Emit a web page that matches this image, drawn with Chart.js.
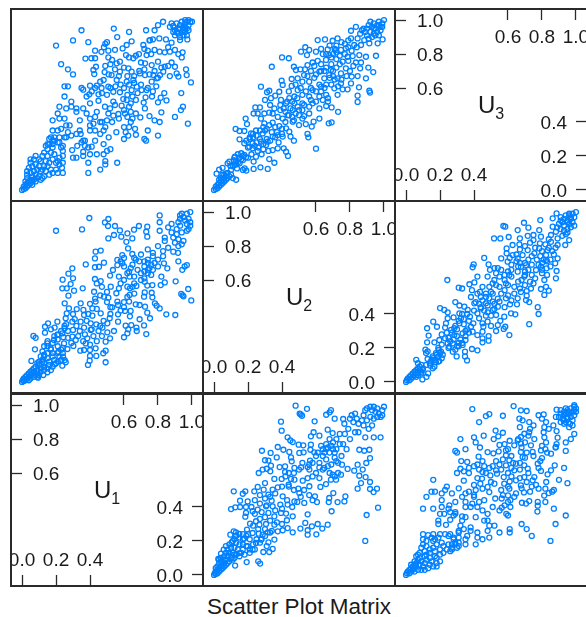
<!DOCTYPE html>
<html>
<head>
<meta charset="utf-8">
<script src="https://cdn.jsdelivr.net/npm/chart.js@4"></script>
<style>
  html, body { margin: 0; background: #fff; overflow: hidden; }
  #page { position: relative; width: 586px; height: 617px; overflow: hidden; font-family: "Liberation Sans", sans-serif; color: #1a1a1a; }
  canvas { position: absolute; }
  .frame { position: absolute; outline: 2px solid #2a2a2a; outline-offset: -1px; }
  .varname { position: absolute; font-size: 24px; transform: translate(-50%, -50%); }
  .varname sub { font-size: 16px; line-height: 0; }
  #title { position: absolute; left: 0; width: 598px; top: 594px; text-align: center; font-size: 22.5px; }
</style>
</head>
<body>
<div id="page"><div id="title">Scatter Plot Matrix</div></div>
<script>
const varNames = ['1', '2', '3'];
const lowTicks = [0, 0.2, 0.4];
const highTicks = [0.6, 0.8, 1.0];

// [U1, U3]
const pairsU1U3 = [
  [0,0],[.01,.005],[.02,.01],[.01,.02],[.03,.02],[.02,.03],[.04,.03],[.03,.04],[.05,.04],[.04,.05],[.06,.05],[.05,.06],[.07,.06],[.02,.05],[.03,.07],[.06,.03],[.08,.05],[.09,.07],[.06,.08],[.08,.09],[.03,.09],[.03,.11],[.04,.13],[.05,.10],[.07,.11],[.10,.08],[.11,.06],[.12,.07],[.13,.08],[.11,.11],[.09,.12],[.06,.14],[.05,.16],[.08,.15],[.10,.14],[.12,.12],[.14,.11],[.13,.14],[.10,.18],[.07,.18],[.05,.18],[.08,.20],[.11,.17],[.12,.20],[.14,.17],[.15,.14],[.16,.09],[.17,.12],[.18,.10],[.16,.16],[.18,.18],[.15,.20],[.13,.22],[.15,.24],[.14,.26],[.16,.27],[.17,.22],[.18,.25],[.19,.21],[.20,.16],[.20,.12],[.21,.10],[.21,.17],[.22,.15],[.22,.19],[.24,.20],[.24,.23],[.24,.16],[.235,.13],[.24,.10],[.23,.25],[.18,.29],[.19,.31],[.22,.31],[.24,.26],[.25,.31],[.16,.30],[.21,.28],
  [.39,.10],[.39,.16],[.46,.12],[.49,.15],[.49,.17],[.56,.16],[.44,.21],[.48,.21],[.50,.23],[.52,.24],[.48,.27],[.43,.29],[.51,.31],[.40,.21],[.36,.225],[.36,.20],[.32,.19],[.30,.19],[.295,.235],[.325,.26],[.35,.28],[.37,.26],[.39,.25],[.41,.255],[.36,.29],[.37,.29],[.43,.35],[.40,.35],[.345,.33],[.32,.33],[.34,.35],[.29,.32],[.26,.31],[.27,.34],[.26,.38],[.23,.36],[.21,.35],[.18,.35],[.17,.31],[.19,.29],[.22,.28],[.18,.27],[.15,.27],[.28,.38],[.40,.38],[.42,.39],[.47,.40],[.49,.37],[.48,.35],[.46,.33],[.555,.34],[.60,.37],[.63,.37],[.61,.34],[.60,.30],[.625,.32],[.64,.40],[.65,.42],[.665,.36],[.67,.325],[.72,.30],[.73,.29],[.74,.35],[.80,.32],[.78,.41],[.81,.40],[.75,.435],[.82,.457],[.90,.43],[.976,.39],[.935,.47],[.947,.49],[.937,.57],[.994,.633],[.85,.527],[.837,.57],[.816,.543],[.80,.516],[.765,.55],[.727,.545],[.716,.514],[.723,.48],[.696,.427],[.67,.45],[.606,.45],[.567,.447],[.537,.437],[.508,.45],[.518,.48],[.488,.49],[.44,.46],[.43,.43],[.46,.40],[.50,.41],[.547,.5],[.586,.496],[.63,.49],[.64,.51],[.596,.535],[.616,.53],[.537,.52],[.50,.56],[.45,.563],[.396,.563],[.40,.51],[.45,.525],[.36,.59],[.35,.60],[.40,.614],[.44,.614],[.46,.637],[.48,.647],[.468,.6],[.508,.608],[.537,.578],[.576,.575],[.557,.647],[.527,.676],[.486,.694],[.425,.682],[.435,.725],[.42,.706],[.373,.773],[.408,.775],[.43,.775],[.43,.82],[.467,.813],[.482,.84],[.508,.82],[.508,.78],[.547,.825],[.53,.765],[.557,.745],[.576,.755],[.547,.71],[.576,.696],[.592,.833],[.616,.853],[.645,.875],[.612,.794],[.655,.775],[.688,.8],[.626,.716],[.645,.696],[.616,.637],[.655,.647],[.694,.686],[.724,.676],[.675,.608],[.645,.588],[.704,.588],[.733,.588],[.763,.637],[.792,.657],[.773,.676],[.812,.676],[.831,.696],[.87,.67],[.92,.667],[.91,.686],[.965,.71],[.969,.676],[.90,.725],[.84,.725],[.80,.755],[.763,.735],[.724,.745],[.733,.794],[.714,.853],[.78,.824],[.81,.814],[.87,.814],[.90,.824],[.945,.81],[.94,.78],[.88,.75],[.753,.882],[.77,.886],[.808,.892],[.847,.886],[.88,.867],[.93,.882],[.973,.886],
  [.20,.85],[.30,.88],[.35,.94],[.39,.87],[.54,.95],[.56,.90],[.63,.93],[.50,.87],[.49,.86],[.73,.94],[.83,.99],[.78,.94],[.80,.97],[.23,.74],[.27,.71],[.30,.68],[.25,.61],[.27,.61],[.25,.55],[.29,.52],[.22,.49],[.26,.48],[.32,.48],[.32,.46],[.29,.49],[.36,.48],[.21,.45],[.22,.42],[.18,.41],[.25,.42],[.34,.41],[.38,.45],[.40,.42],
  [.87,.96],[.88,.98],[.89,.965],[.90,.94],[.91,.98],[.92,.95],[.93,.97],[.94,.99],[.95,.96],[.96,.98],[.97,.95],[.97,.99],[.98,1.0],[.96,1.0],[.99,.99],[.94,.93],[.96,.93],[.98,.94],[.92,.92],[.95,.91],[.97,.91],[.90,.91],[.93,.90],[.89,.93],[.98,.97],[1.0,.99],[.95,.94],[.93,.95],[.91,.93],[.96,.95],
  [.38,.55],[.41,.58],[.43,.60],[.47,.57],[.52,.60],[.55,.61],[.58,.62],[.60,.60],[.63,.62],[.66,.63],[.68,.57],[.62,.56],[.65,.55],[.67,.53],[.62,.43],[.64,.46],[.60,.47],[.57,.42],[.53,.40],[.66,.67],[.69,.70],[.72,.71],[.75,.68],[.78,.70],[.80,.66],[.82,.72],[.86,.73],[.70,.75],[.67,.79],[.63,.78],[.60,.72],[.62,.67],[.57,.67],[.51,.68],[.49,.73],[.52,.74],[.74,.82],[.72,.83],[.76,.80],[.84,.81],[.86,.84],[.75,.88],[.92,.80],[.74,.60],[.77,.58],[.79,.61],[.70,.62]
];

// [U2, U3]
const pairsU2U3 = [
  [0,0],[.01,.005],[.02,.01],[.01,.02],[.02,.03],[.03,.02],[.04,.03],[.03,.04],[.05,.04],[.04,.05],[.06,.05],[.05,.06],[.07,.06],[.06,.07],[.08,.07],[.07,.08],[.09,.08],[.03,.06],[.04,.07],[.06,.09],[.08,.10],[.05,.09],[.10,.09],[.11,.07],[.13,.06],
  [.015,.096],[.03,.12],[.05,.13],[.08,.157],[.09,.167],[.096,.143],[.116,.176],[.123,.196],[.14,.21],[.16,.216],[.178,.206],[.188,.192],[.17,.176],[.15,.157],[.12,.147],[.135,.127],[.10,.118],[.07,.098],[.18,.127],[.19,.114],[.17,.118],[.233,.124],[.273,.133],[.316,.124],[.355,.16],[.325,.182],[.233,.167],[.247,.196],[.257,.23],[.227,.245],[.208,.255],[.178,.275],[.15,.298],[.227,.275],[.276,.284],[.306,.265],[.345,.235],[.375,.245],[.41,.245],[.424,.225],[.435,.2],[.60,.243],[.55,.33],[.555,.31],[.47,.29],[.45,.314],[.443,.343],[.404,.314],[.375,.323],[.345,.314],[.316,.284],[.286,.333],[.247,.35],[.218,.333],[.178,.347],[.15,.347],[.127,.359],[.194,.388],[.186,.42],[.276,.42],[.296,.392],[.325,.382],[.345,.396],[.384,.376],[.424,.363],[.463,.402],[.50,.382],[.54,.388],[.575,.373],[.586,.402],[.62,.42],[.675,.392],[.692,.398],[.73,.46],[.692,.486],[.66,.494],[.67,.52],[.62,.48],[.56,.45],[.53,.435],[.492,.49],[.463,.47],[.433,.44],[.404,.42],[.375,.43],[.345,.45],[.325,.455],[.296,.45],[.257,.45],[.233,.45],[.243,.486],[.27,.486],[.33,.5],[.355,.48],[.3,.53],[.335,.54],[.36,.555],[.394,.53],[.424,.51],[.443,.54],[.473,.55],[.473,.51],[.52,.51],[.52,.47],[.56,.49],[.57,.53],[.56,.55],[.62,.55],[.66,.56],[.67,.54],[.845,.555],[.845,.518],[.914,.584],[.918,.573],[.853,.604],[.786,.592],[.757,.592],[.727,.56],[.708,.598],[.747,.627],[.806,.627],[.81,.667],[.845,.67],[.894,.657],[.937,.694],[.908,.72],[.86,.716],[.835,.75],[.865,.75],[.953,.79],[.894,.784],[.855,.794],[.816,.788],[.786,.784],[.776,.833],[.747,.824],[.757,.755],[.776,.716],[.747,.686],[.727,.657],[.688,.706],[.678,.676],[.649,.657],[.62,.696],[.659,.765],[.678,.794],[.669,.827],[.718,.824],[.727,.892],[.698,.878],[.653,.886],[.61,.882],[.6,.814],[.56,.824],[.537,.84],[.512,.814],[.547,.794],[.44,.775],[.4,.78],[.34,.725],[.47,.725],[.482,.706],[.508,.71],[.535,.71],[.55,.735],[.59,.73],[.53,.676],[.492,.657],[.457,.653],[.398,.643],[.404,.618],[.276,.608],[.312,.575],[.325,.584],[.384,.578],[.457,.612],[.492,.588],[.52,.637],[.56,.637],[.58,.588],[.63,.608],[.806,.937],[.835,.96],[.806,.892],[.845,.892],[.884,.882],[.914,.863],[.963,.863],[.992,.886],[.865,.853],[.825,.853],
  [.89,.93],[.90,.95],[.91,.97],[.92,.99],[.93,.96],[.94,.98],[.95,.95],[.96,.97],[.97,.99],[.98,.96],[.99,.98],[1.0,1.0],[.99,.96],[.98,.94],[.96,.93],[.94,.92],[.92,.93],[.90,.91],[.93,.90],[.95,.91],[.97,.91],[.88,.95],[.91,.89],[.86,.92],[.87,.94],[.94,.95],[.97,.97],
  [.12,.19],[.13,.17],[.15,.19],[.16,.18],[.14,.16],[.11,.14],[.13,.15],[.17,.20],[.19,.29],[.21,.30],[.23,.31],[.25,.28],[.27,.30],[.29,.27],[.31,.30],[.33,.29],[.36,.31],[.38,.28],[.31,.36],[.29,.37],[.36,.37],[.40,.36],[.42,.40],[.44,.44],[.46,.43],[.48,.45],[.50,.44],[.52,.42],[.41,.48],[.39,.50],[.43,.52],[.46,.52],[.49,.54],[.52,.56],[.54,.58],[.57,.60],[.60,.58],[.62,.62],[.65,.60],[.68,.66],[.70,.70],[.72,.72],[.69,.74],[.72,.77],[.74,.79],[.70,.80],[.77,.80],[.79,.84],[.72,.85],[.75,.87],[.68,.85],[.64,.80],[.61,.76],[.63,.70],[.59,.66],[.55,.67],[.51,.60],[.48,.62],[.44,.58],
  [.39,.47],[.42,.46],[.45,.48],[.47,.41],[.50,.47],[.53,.50],[.58,.51],[.60,.52],[.64,.53],[.63,.58],[.66,.62],[.69,.62],[.73,.61],[.71,.65],[.75,.65],[.78,.67],[.80,.70],[.82,.73],[.79,.76],[.74,.74],[.70,.67],[.65,.70],[.60,.68],[.57,.70],[.58,.75],[.63,.74],[.66,.72],[.69,.78],[.72,.81],[.81,.82],[.84,.84],[.79,.88],[.77,.86],[.71,.83],[.66,.80],[.63,.83],[.23,.33],[.25,.32],[.21,.31],[.27,.35],[.30,.35],[.34,.34],[.37,.34],[.40,.33],[.20,.25],[.24,.26],[.26,.25],[.29,.24],[.32,.23],[.20,.19],[.22,.21],[.28,.21]
];

// [U2, U1]
const pairsU2U1 = [
  [.48,.996],[.547,.978],[.504,.95],[.518,.937],[.51,.945],[.688,.97],[.68,.957],[.66,.943],[.592,.904],[.394,.902],[.398,.849],[.71,.92],[.76,.918],[.767,.89],[.669,.855],[.698,.835],[.62,.82],[.586,.84],[.57,.816],[.433,.81],[.449,.792],[.463,.782],[.498,.767],[.525,.763],[.57,.767],[.375,.753],[.408,.737],[.443,.724],[.282,.731],[.333,.718],[.502,.718],[.527,.722],[.567,.737],[.59,.722],[.369,.692],[.453,.692],[.457,.669],[.3,.675],[.32,.673],[.335,.643],[.31,.625],[.286,.62],[.263,.6],[.331,.61],[.386,.635],[.418,.639],[.418,.606],[.473,.63],[.512,.633],[.565,.673],[.551,.635],[.561,.62],[.62,.633],[.649,.63],[.355,.565],[.398,.565],[.3,.541],[.453,.565],[.439,.531],[.473,.561],[.522,.555],[.551,.57],[.62,.57],[.626,.518],[.659,.535],[.688,.561],[.718,.561],[.698,.59],[.747,.59],[.786,.624],[.753,.649],[.825,.614],[.845,.649],[.875,.62],[.896,.659],[.918,.688],[.914,.737],[.884,.731],[.855,.737],[.855,.584],[.892,.576],[.865,.541],[.845,.508],[.918,.547],[.918,.506],[.939,.488],[.959,.508],[.965,.396],[.898,.353],[.89,.2],[.773,.463],[.767,.433],[.727,.429],[.678,.453],[.675,.429],[.692,.375],[.702,.482],[.669,.296],[.637,.273],[.61,.3],[.602,.239],[.576,.286],[.551,.237],[.551,.263],[.537,.306],[.508,.273],[.551,.357],[.606,.429],[.594,.463],[.531,.424],[.502,.482],[.496,.508],[.561,.522],[.473,.433],[.433,.414],[.404,.463],[.375,.516],[.345,.502],[.32,.473],[.292,.502],[.257,.518],[.237,.492],[.184,.492],[.169,.478],[.116,.492],[.198,.433],[.153,.437],[.1,.388],[.125,.398],[.153,.4],[.188,.4],[.188,.365],[.184,.343],[.227,.375],[.257,.384],[.27,.42],[.306,.404],[.339,.437],[.345,.404],[.39,.414],[.32,.365],[.355,.345],[.394,.365],[.424,.361],[.463,.345],[.429,.322],[.355,.296],[.306,.3],[.267,.296],[.247,.316],[.212,.302],[.194,.267],[.227,.247],[.116,.257],[.129,.251],[.149,.241],[.096,.237],[.178,.214],[.263,.243],[.286,.237],[.316,.251],[.375,.257],[.404,.263],[.433,.276],[.463,.251],[.355,.208],[.32,.192],[.276,.208],[.247,.188],[.227,.149],[.345,.153],[.325,.135],[.29,.135],[.26,.08],[.271,.067],[.192,.076],[.124,.055],[.198,.169],[.169,.149],[.149,.129],[.12,.12],[.104,.192],[.08,.149],[.057,.149],[.041,.125],[.025,.094],[.08,.11],[.11,.09],
  [0,0],[.005,.01],[.01,.005],[.01,.02],[.02,.01],[.02,.03],[.03,.02],[.03,.04],[.04,.03],[.04,.05],[.05,.04],[.05,.06],[.06,.05],[.06,.07],[.07,.06],[.02,.05],[.03,.07],[.01,.04],[.04,.08],[.05,.09],[.07,.09],[.08,.07],[.09,.08],[.10,.10],[.08,.11],[.06,.11],[.04,.10],[.03,.09],[.12,.10],[.13,.12],[.11,.13],[.09,.13],[.07,.13],[.14,.15],[.12,.16],[.10,.16],[.09,.18],[.07,.17],[.16,.13],[.15,.18],[.13,.19],[.11,.20],[.17,.18],[.19,.17],[.21,.15],[.23,.18],[.25,.21],[.28,.21],[.30,.23],[.33,.25],[.15,.22],[.13,.23],[.12,.21],[.17,.24],[.19,.23],[.21,.21],
  [.81,.94],[.83,.95],[.80,.92],[.82,.90],[.84,.92],[.85,.89],[.87,.91],[.88,.94],[.89,.97],[.90,.98],[.92,.99],[.93,.97],[.94,.99],[.95,.96],[.96,.98],[.97,.95],[.98,.93],[.99,.97],[1.0,.99],[.99,.94],[.96,.93],[.94,.92],[.92,.93],[.90,.91],[.88,.88],[.91,.86],[.93,.88],[.85,.84],[.89,.81],[.94,.81],[.98,.81],[.79,.86],[.83,.84],[.80,.80],[.77,.83],[.74,.83],[.72,.80],[.70,.78],[.68,.80],[.66,.77],[.64,.74],[.66,.74],[.68,.72],[.70,.74],[.72,.74],[.74,.77],[.76,.77],[.78,.74],[.75,.70],[.73,.66],[.71,.69],[.69,.65],[.66,.68],[.64,.70],[.62,.66],[.60,.70],[.58,.66],[.56,.65],
  [.67,.75],[.69,.76],[.71,.72],[.65,.72],[.63,.76],[.61,.72],[.72,.67],[.67,.64],[.64,.62],[.60,.60],[.58,.58],[.68,.60],[.71,.58],[.73,.60],[.52,.66],[.50,.62],[.47,.60],[.44,.60],[.42,.58],[.44,.52],[.47,.50],[.51,.46],[.53,.50],[.56,.47],[.58,.44],[.40,.52],[.36,.48],[.33,.46],[.30,.45],[.27,.47],[.24,.44],[.22,.40],[.24,.36],[.28,.37],[.31,.41],[.36,.38],[.40,.39],[.43,.44],[.46,.40],[.49,.43],[.27,.33],[.30,.34],[.33,.32],[.37,.31],[.40,.30],[.23,.29],[.26,.27],[.30,.27],[.34,.26],[.20,.24],[.27,.19],[.31,.17],[.17,.21],[.24,.15],[.21,.13],[.18,.12],[.15,.11]
];

const panelLeft = [11, 203, 395];
const panelTop = [9, 201, 394];
const panelSize = 192;
const axisMin = -0.065;
const axisMax = 1.065;
const inkColor = '#1a1a1a';
const page = document.getElementById('page');

function addPanel(col, row) {
  let frame = document.createElement('div');
  frame.className = 'frame';
  frame.style.cssText = `left:${panelLeft[col]}px;top:${panelTop[row]}px;width:${panelSize}px;height:${panelSize}px`;
  let canvas = document.createElement('canvas');
  canvas.width = panelSize;
  canvas.height = panelSize;
  canvas.style.left = panelLeft[col] + 'px';
  canvas.style.top = panelTop[row] + 'px';
  page.appendChild(canvas);
  page.appendChild(frame);
  return canvas.getContext('2d');
}

function scatterPanel(col, row, pairs, swap) {
  let points = pairs.map(p => swap ? { x: p[1], y: p[0] } : { x: p[0], y: p[1] });
  new Chart(addPanel(col, row), {
    type: 'scatter',
    data: {
      datasets: [{
        data: points,
        pointRadius: 2.5,
        pointBorderWidth: 1.3,
        pointBorderColor: '#0080ff',
        pointBackgroundColor: 'rgba(0,0,0,0)'
      }]
    },
    options: {
      responsive: false,
      animation: false,
      layout: { padding: 0, autoPadding: false },
      plugins: { legend: { display: false }, tooltip: { enabled: false } },
      scales: {
        x: { display: false, min: axisMin, max: axisMax },
        y: { display: false, min: axisMin, max: axisMax }
      }
    }
  });
}

// axes sit on the panel edges with zero thickness, ticks point inward
function insideAxis(axis, position, values, labelGap, labelShift) {
  return {
    axis: axis,
    position: position,
    type: 'linear',
    min: axisMin,
    max: axisMax,
    afterBuildTicks: s => { s.ticks = values.map(v => ({ value: v })); },
    afterFit: s => {
      if (axis === 'x') s.height = 0; else s.width = 0;
      s.paddingLeft = s.paddingRight = s.paddingTop = s.paddingBottom = 0;
    },
    border: { display: false },
    grid: { drawOnChartArea: false, tickLength: -11, tickColor: '#2a2a2a', tickWidth: 1.3 },
    ticks: {
      mirror: true,
      padding: labelGap,
      labelOffset: labelShift,
      autoSkip: false,
      maxRotation: 0,
      minRotation: 0,
      color: inkColor,
      font: { family: '"Liberation Sans"', size: 19 },
      callback: v => v.toFixed(1)
    }
  };
}

function diagonalPanel(col, row, varName) {
  new Chart(addPanel(col, row), {
    type: 'scatter',
    data: { datasets: [{ data: [] }] },
    options: {
      responsive: false,
      animation: false,
      layout: { padding: 0, autoPadding: false },
      plugins: { legend: { display: false }, tooltip: { enabled: false } },
      scales: {
        x: insideAxis('x', 'bottom', lowTicks, 14, 0),
        xTop: insideAxis('x', 'top', highTicks, 17, 0),
        y: insideAxis('y', 'left', highTicks, 22, 2),
        yRight: insideAxis('y', 'right', lowTicks, -20, 2)
      }
    }
  });
  let label = document.createElement('div');
  label.className = 'varname';
  label.innerHTML = 'U<sub>' + varName + '</sub>';
  label.style.left = panelLeft[col] + panelSize / 2 + 'px';
  label.style.top = panelTop[row] + panelSize / 2 + 'px';
  page.appendChild(label);
}

scatterPanel(0, 0, pairsU1U3, false);
scatterPanel(1, 0, pairsU2U3, false);
diagonalPanel(2, 0, varNames[2]);
scatterPanel(0, 1, pairsU2U1, true);
diagonalPanel(1, 1, varNames[1]);
scatterPanel(2, 1, pairsU2U3, true);
diagonalPanel(0, 2, varNames[0]);
scatterPanel(1, 2, pairsU2U1, false);
scatterPanel(2, 2, pairsU1U3, true);
</script>
</body>
</html>
